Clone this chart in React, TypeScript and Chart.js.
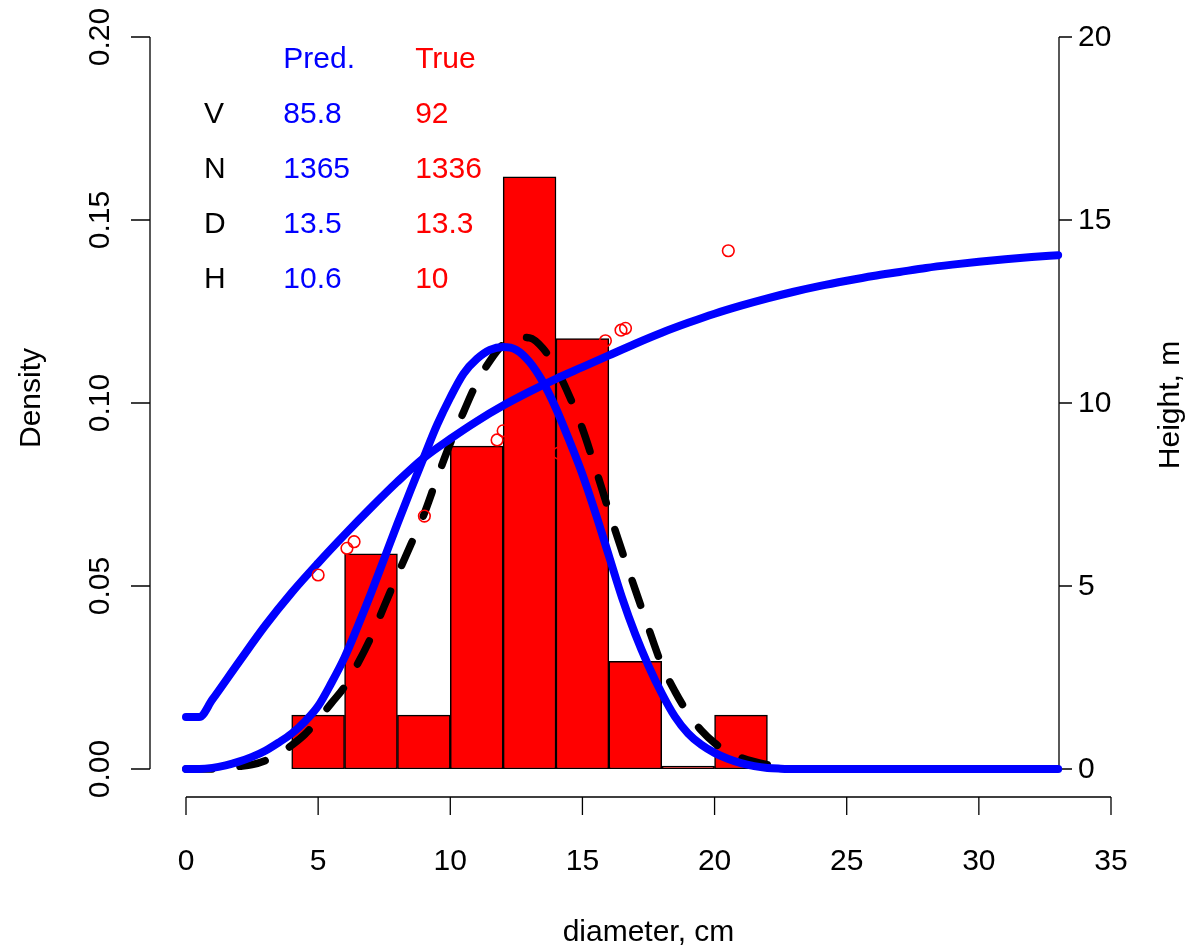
import React, { useEffect, useRef } from "react";
import { Chart, registerables } from "chart.js";

Chart.register(...registerables);

const FONT = '"Liberation Sans", Arial, Helvetica, sans-serif';

// Histogram (bin centres, bin width 2 cm) — density
const binCenters = [5, 7, 9, 11, 13, 15, 17, 19, 21];
const binDensity = [0.0147, 0.0588, 0.0147, 0.0882, 0.1618, 0.1176, 0.0294, 0, 0.0147];

// Predicted density curve (blue)
const predDensX = [0, 0.5, 1, 1.5, 2, 2.5, 3, 3.5, 4, 4.5, 5, 5.5, 6, 6.5, 7, 7.5, 8, 8.5, 9, 9.5, 10, 10.5, 11, 11.5, 12, 12.5, 13, 13.5, 14, 14.5, 15, 15.5, 16, 16.5, 17, 17.5, 18, 18.5, 19, 19.5, 20, 20.5, 21, 21.5, 22, 22.5, 23, 25, 27, 29, 31, 33];
const predDensY = [0, 0, 0.0003, 0.001, 0.002, 0.0033, 0.005, 0.0072, 0.0097, 0.013, 0.0172, 0.0235, 0.0305, 0.039, 0.048, 0.0575, 0.067, 0.0762, 0.0852, 0.094, 0.1015, 0.108, 0.112, 0.1145, 0.1153, 0.1145, 0.1112, 0.1058, 0.0985, 0.0898, 0.0805, 0.0698, 0.0583, 0.0468, 0.0368, 0.0282, 0.0207, 0.0143, 0.0097, 0.0066, 0.0044, 0.0028, 0.0016, 0.0008, 0.0003, 0.0001, 0, 0, 0, 0, 0, 0];

// True density curve (black dashed)
const trueDensX = [0, 0.5, 1, 1.5, 2, 2.5, 3, 3.5, 4, 4.5, 5, 5.5, 6, 6.5, 7, 7.5, 8, 8.5, 9, 9.5, 10, 10.5, 11, 11.5, 12, 12.5, 13, 13.5, 14, 14.5, 15, 15.5, 16, 16.5, 17, 17.5, 18, 18.5, 19, 19.5, 20, 20.5, 21, 21.5, 22, 22.5, 23];
const trueDensY = [0, 0, 0, 0.0003, 0.0007, 0.0012, 0.0023, 0.004, 0.0065, 0.0095, 0.0135, 0.018, 0.0225, 0.0288, 0.036, 0.0445, 0.053, 0.0612, 0.0695, 0.0795, 0.089, 0.0975, 0.1055, 0.1115, 0.116, 0.118, 0.1178, 0.115, 0.1095, 0.102, 0.093, 0.082, 0.0705, 0.0595, 0.049, 0.0385, 0.0285, 0.0212, 0.0152, 0.0105, 0.0071, 0.0047, 0.0031, 0.002, 0.0012, 0.0006, 0.0002];

// Predicted height curve (blue, right axis)
const heightX = [0, 0.5, 1, 2, 3, 4, 5, 6, 7, 8, 9, 10, 11, 12, 13, 14, 15, 16, 17, 18, 19, 20, 21, 22, 23, 24, 25, 26, 27, 28, 29, 30, 31, 32, 33];
const heightY = [1.42, 1.42, 1.9, 2.92, 3.92, 4.82, 5.63, 6.4, 7.14, 7.85, 8.5, 9.02, 9.5, 9.93, 10.31, 10.66, 10.98, 11.3, 11.62, 11.92, 12.19, 12.44, 12.66, 12.86, 13.04, 13.2, 13.34, 13.47, 13.58, 13.69, 13.78, 13.86, 13.93, 13.99, 14.04];

// Measured trees (red circles, right axis)
const treeD = [5.0, 6.09, 6.36, 9.02, 11.77, 12.0, 14.1, 15.87, 16.46, 16.63, 20.52];
const treeH = [5.3, 6.03, 6.21, 6.91, 8.99, 9.24, 8.63, 11.7, 11.99, 12.04, 14.16];

// Axis ticks
const xTicks = [0, 5, 10, 15, 20, 25, 30, 35];
const yTicks = [0, 0.05, 0.1, 0.15, 0.2];
const yTickLabels = ["0.00", "0.05", "0.10", "0.15", "0.20"];
const y2Ticks = [0, 5, 10, 15, 20];

// Stats table
const statHeader = ["Pred.", "True"];
const statNames = ["V", "N", "D", "H"];
const predVals = ["85.8", "1365", "13.5", "10.6"];
const trueVals = ["92", "1336", "13.3", "10"];

const pts = (xs: number[], ys: number[]) => xs.map((x, i) => ({ x, y: ys[i] }));

const rAxesPlugin = {
  id: "rAxes",
  beforeDatasetsDraw(chart: any) {
    const { ctx, chartArea, scales } = chart;
    const xs = scales.x, ys = scales.y, y2 = scales.y2;
    ctx.save();
    ctx.strokeStyle = "#000";
    ctx.fillStyle = "#000";
    ctx.lineWidth = 1.3;
    ctx.font = `30px ${FONT}`;

    // left axis
    const lx = chartArea.left - 36;
    ctx.beginPath();
    ctx.moveTo(lx, ys.getPixelForValue(0));
    ctx.lineTo(lx, ys.getPixelForValue(0.2));
    yTicks.forEach((t) => {
      const py = ys.getPixelForValue(t);
      ctx.moveTo(lx, py);
      ctx.lineTo(lx - 19, py);
    });
    ctx.stroke();
    ctx.textAlign = "center";
    ctx.textBaseline = "middle";
    yTicks.forEach((t, i) => {
      const py = ys.getPixelForValue(t);
      ctx.save();
      ctx.translate(lx - 50, py);
      ctx.rotate(-Math.PI / 2);
      ctx.fillText(yTickLabels[i], 0, 1);
      ctx.restore();
    });

    // right axis
    const rx = chartArea.right - 52;
    ctx.beginPath();
    ctx.moveTo(rx, y2.getPixelForValue(0));
    ctx.lineTo(rx, y2.getPixelForValue(20));
    y2Ticks.forEach((t) => {
      const py = y2.getPixelForValue(t);
      ctx.moveTo(rx, py);
      ctx.lineTo(rx + 13, py);
    });
    ctx.stroke();
    ctx.textAlign = "left";
    y2Ticks.forEach((t) => {
      ctx.fillText(String(t), rx + 19, y2.getPixelForValue(t) + 1);
    });

    // bottom axis
    const by = chartArea.bottom + 28;
    ctx.beginPath();
    ctx.moveTo(xs.getPixelForValue(0), by);
    ctx.lineTo(xs.getPixelForValue(35), by);
    xTicks.forEach((t) => {
      const px = xs.getPixelForValue(t);
      ctx.moveTo(px, by);
      ctx.lineTo(px, by + 18);
    });
    ctx.stroke();
    ctx.textAlign = "center";
    ctx.textBaseline = "alphabetic";
    xTicks.forEach((t) => {
      ctx.fillText(String(t), xs.getPixelForValue(t), by + 73);
    });

    // axis titles
    ctx.fillText("diameter, cm", (xs.getPixelForValue(0) + xs.getPixelForValue(35)) / 2, by + 144);
    ctx.textBaseline = "middle";
    ctx.save();
    ctx.translate(32, 398);
    ctx.rotate(-Math.PI / 2);
    ctx.fillText("Density", 0, 0);
    ctx.restore();
    ctx.save();
    ctx.translate(1171, 405);
    ctx.rotate(-Math.PI / 2);
    ctx.fillText("Height, m", 0, 0);
    ctx.restore();

    // stats table
    ctx.textAlign = "left";
    ctx.textBaseline = "alphabetic";
    const colName = xs.getPixelForValue(0.68);
    const colPred = xs.getPixelForValue(3.68);
    const colTrue = xs.getPixelForValue(8.67);
    const rowY = (i: number) => ys.getPixelForValue(0.1915 - 0.015 * i);
    ctx.fillStyle = "#0000FF";
    ctx.fillText(statHeader[0], colPred, rowY(0));
    ctx.fillStyle = "#FF0000";
    ctx.fillText(statHeader[1], colTrue, rowY(0));
    statNames.forEach((n, i) => {
      ctx.fillStyle = "#000";
      ctx.fillText(n, colName, rowY(i + 1));
      ctx.fillStyle = "#0000FF";
      ctx.fillText(predVals[i], colPred, rowY(i + 1));
      ctx.fillStyle = "#FF0000";
      ctx.fillText(trueVals[i], colTrue, rowY(i + 1));
    });
    ctx.restore();
  },
};

export default function App() {
  const ref = useRef<HTMLCanvasElement>(null);
  useEffect(() => {
    const chart = new Chart(ref.current as HTMLCanvasElement, {
      type: "line",
      data: {
        datasets: [
          {
            type: "scatter",
            label: "Trees",
            data: pts(treeD, treeH),
            yAxisID: "y2",
            showLine: false,
            pointStyle: "circle",
            pointRadius: 5.8,
            pointBorderWidth: 1.6,
            pointBorderColor: "#FF0000",
            pointBackgroundColor: "rgba(0,0,0,0)",
            clip: false,
            order: 0,
          } as any,
          {
            type: "line",
            label: "Height",
            data: pts(heightX, heightY),
            yAxisID: "y2",
            borderColor: "#0000FF",
            borderWidth: 8,
            borderCapStyle: "round",
            borderJoinStyle: "round",
            pointRadius: 0,
            cubicInterpolationMode: "monotone",
            clip: false,
            order: 1,
          },
          {
            type: "line",
            label: "Pred density",
            data: pts(predDensX, predDensY),
            yAxisID: "y",
            borderColor: "#0000FF",
            borderWidth: 8,
            borderCapStyle: "round",
            borderJoinStyle: "round",
            pointRadius: 0,
            cubicInterpolationMode: "monotone",
            clip: false,
            order: 2,
          },
          {
            type: "line",
            label: "True density",
            data: pts(trueDensX, trueDensY),
            yAxisID: "y",
            borderColor: "#000000",
            borderWidth: 7.5,
            borderDash: [26, 28],
            borderCapStyle: "round",
            borderJoinStyle: "round",
            pointRadius: 0,
            cubicInterpolationMode: "monotone",
            clip: false,
            order: 3,
          },
          {
            type: "bar",
            label: "Histogram",
            data: pts(binCenters, binDensity),
            yAxisID: "y",
            backgroundColor: "#FF0000",
            borderColor: "#000000",
            borderWidth: 1.5,
            borderSkipped: false,
            minBarLength: 3,
            barPercentage: 1,
            categoryPercentage: 1,
            grouped: false,
            order: 4,
          } as any,
        ],
      },
      options: {
        responsive: false,
        animation: false,
        events: [],
        layout: { padding: { left: 186, right: 81, top: 37, bottom: 180 } },
        plugins: { legend: { display: false }, tooltip: { enabled: false } },
        scales: {
          x: { type: "linear", min: 0, max: 35, display: false, offset: false, ticks: { stepSize: 5 } },
          y: { type: "linear", min: 0, max: 0.2, display: false },
          y2: { type: "linear", min: 0, max: 20, display: false, position: "right" },
        },
      },
      plugins: [rAxesPlugin],
    });
    return () => chart.destroy();
  }, []);
  return (
    <div style={{ position: "absolute", left: 0, top: 0, width: 1192, height: 949, background: "#fff" }}>
      <canvas ref={ref} width={1192} height={949} style={{ display: "block" }} />
    </div>
  );
}
